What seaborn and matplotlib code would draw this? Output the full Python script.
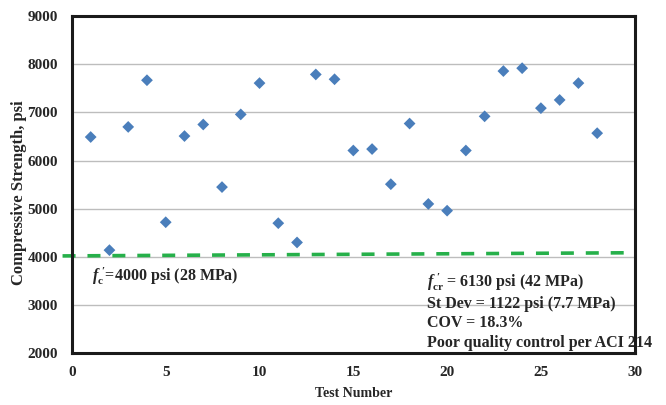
import matplotlib
matplotlib.use("Agg")
import matplotlib.pyplot as plt
import seaborn as sns
import pandas as pd

# === Data ===
test_number = list(range(1, 29))
strength_psi = [6490, 4140, 6700, 7670, 4720, 6510, 6750, 5450, 6960, 7610,
                4700, 4300, 7790, 7690, 6210, 6240, 5510, 6770, 5100, 4960,
                6210, 6920, 7860, 7920, 7090, 7260, 7610, 6570]

# specified strength line (drawn slightly tilted in the original)
spec_x = [-0.5, 29.5]
spec_y = [4020, 4085]

x_ticks = [0, 5, 10, 15, 20, 25, 30]
y_ticks = [2000, 3000, 4000, 5000, 6000, 7000, 8000, 9000]

stats_lines = [
    r"$\mathit{f}_{\mathregular{cr}}^{\ \prime}$ = 6130 psi (42 MPa)",
    "St Dev = 1122 psi (7.7 MPa)",
    "COV = 18.3%",
    "Poor quality control per ACI 214",
]

# === Style ===
sns.set_style("white")
plt.rcParams["font.family"] = ["Liberation Serif", "DejaVu Serif"]
plt.rcParams["font.weight"] = "bold"
plt.rcParams["mathtext.fontset"] = "custom"
plt.rcParams["mathtext.rm"] = "Liberation Serif:bold"
plt.rcParams["mathtext.it"] = "Liberation Serif:italic:bold"
plt.rcParams["mathtext.bf"] = "Liberation Serif:bold"

df = pd.DataFrame({"test": test_number, "strength": strength_psi})

fig = plt.figure(figsize=(6.66, 4.05), dpi=100)
ax = fig.add_axes([0.108, 0.128, 0.845, 0.832])

ax.grid(axis="y", color="#bdbdbd", linewidth=1.0, zorder=0)
ax.set_axisbelow(True)

ax.plot(spec_x, spec_y, color="#26b04a", linewidth=2.6,
        dashes=(3.6, 3.3), clip_on=False, zorder=3)

sns.scatterplot(data=df, x="test", y="strength", marker="D", s=36,
                color="#4a7ebb", edgecolor="none", ax=ax, zorder=4)

ax.set_xlim(0, 30)
ax.set_ylim(2000, 9000)
ax.set_xticks(x_ticks)
ax.set_yticks(y_ticks)
ax.tick_params(axis="both", length=0, labelsize=11)
ax.tick_params(axis="y", pad=10)
ax.tick_params(axis="x", pad=9)
for lab in ax.get_xticklabels() + ax.get_yticklabels():
    lab.set_fontweight("bold")

for side in ["left", "right", "top", "bottom"]:
    ax.spines[side].set_visible(True)
    ax.spines[side].set_color("#1a1a1a")
    ax.spines[side].set_linewidth(2.2)
    ax.spines[side].set_zorder(5)

ax.set_xlabel("Test Number", fontsize=10, fontweight="bold", labelpad=6)
ax.set_ylabel("Compressive Strength, psi", fontsize=12, fontweight="bold")
ax.yaxis.set_label_coords(-0.079, 0.475)

ax.text(1.05, 3600, r"$\mathit{f}_{\mathregular{c}}^{\ \prime}$=4000 psi (28 MPa)",
        fontsize=11.5, fontweight="bold", va="center", ha="left")

ax.text(18.95, 3700, "\n".join(stats_lines), fontsize=11.5, fontweight="bold",
        va="top", ha="left", linespacing=1.28, clip_on=False, zorder=2)

fig.savefig("out.png", dpi=100)
